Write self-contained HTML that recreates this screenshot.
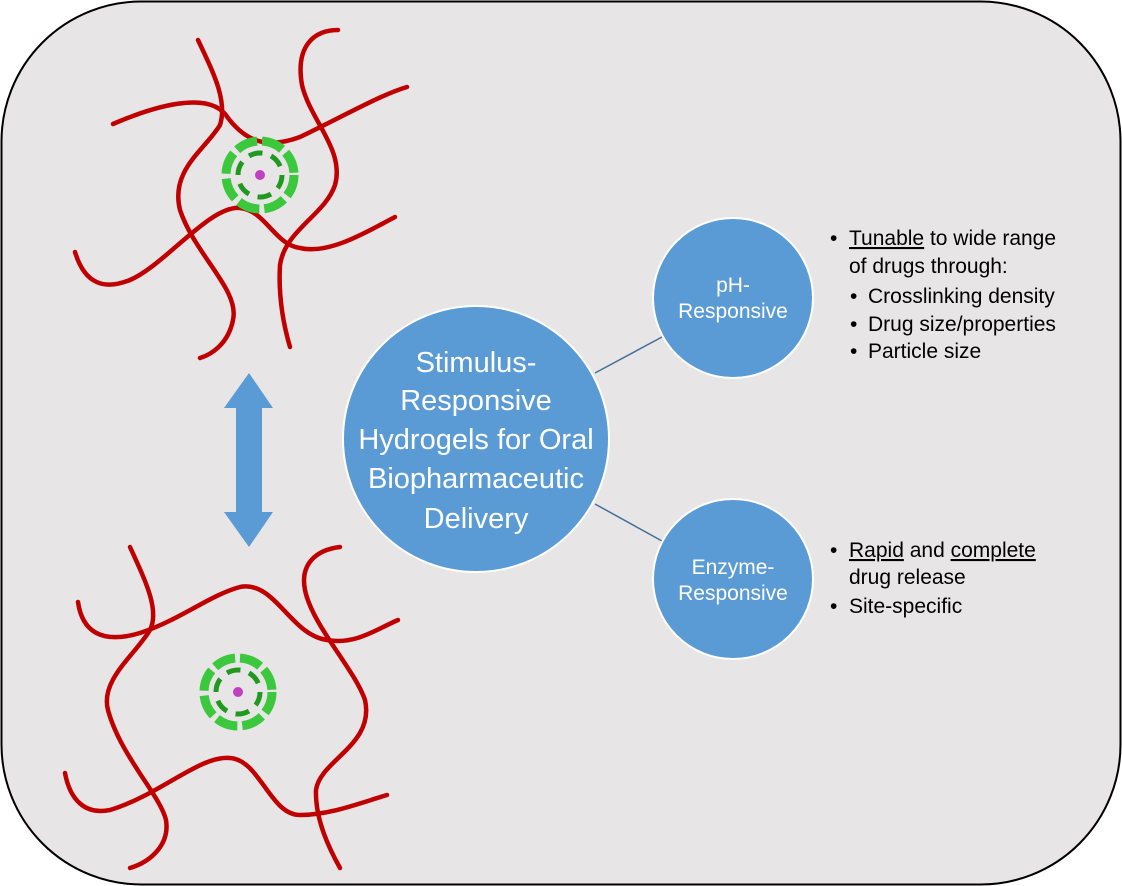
<!DOCTYPE html>
<html><head><meta charset="utf-8"><style>
html,body{margin:0;padding:0;background:#fff;width:1122px;height:886px;overflow:hidden}
svg{display:block}
text{font-family:"Liberation Sans",sans-serif}
</style></head><body>
<svg width="1122" height="886" viewBox="0 0 1122 886" xmlns="http://www.w3.org/2000/svg">
<rect x="1.5" y="1.5" width="1119" height="883" rx="140" ry="140" fill="#e7e5e6" stroke="#000" stroke-width="2"/>
<g fill="none" stroke="#c00000" stroke-width="4.5" stroke-linecap="round">
<path d="M113,124 C150,108 210,88 228,118 C245,140 265,150 300,137 C340,118 380,95 407,87"/>
<path d="M198,40 C212,70 228,100 220,125 C205,150 170,170 180,210 C195,255 240,290 233,320 C228,345 210,355 200,358"/>
<path d="M338,30 C315,30 295,45 302,85 C310,120 345,150 335,185 C325,215 285,230 280,265 C278,300 285,330 290,347"/>
<path d="M75,252 C85,285 105,290 130,280 C165,265 210,205 240,208 C265,210 275,245 300,248 C330,255 370,230 395,217"/>
<path d="M78,602 C82,630 100,645 140,633 C180,620 210,595 240,587 C275,580 290,635 327,640 C355,645 375,630 398,620"/>
<path d="M130,547 C145,580 160,610 150,630 C135,655 100,680 108,710 C120,755 160,795 166,820 C170,845 150,862 130,868"/>
<path d="M340,547 C315,550 300,565 305,590 C312,625 355,670 365,700 C375,745 320,760 316,790 C315,820 330,850 340,868"/>
<path d="M65,773 C70,800 85,815 110,810 C160,795 200,755 230,758 C260,760 270,815 300,815 C330,815 360,803 387,795"/>
</g>
<g>
<circle cx="260" cy="175" r="34" fill="none" stroke="#3cc83c" stroke-width="9" stroke-dasharray="22 5"/>
<circle cx="260" cy="175" r="22" fill="none" stroke="#1f9a1f" stroke-width="5" stroke-dasharray="14 9"/>
<circle cx="260" cy="175" r="5" fill="#c040c0"/>
<circle cx="238" cy="692" r="34" fill="none" stroke="#3cc83c" stroke-width="9" stroke-dasharray="22 5"/>
<circle cx="238" cy="692" r="22" fill="none" stroke="#1f9a1f" stroke-width="5" stroke-dasharray="14 9"/>
<circle cx="238" cy="692" r="5" fill="#c040c0"/>
</g>
<polygon points="249,373 273,408 262,408 262,512 273,512 249,547 224,512 236,512 236,408 224,408" fill="#5b9bd5"/>
<line x1="595" y1="373" x2="662" y2="337" stroke="#41719c" stroke-width="1.5"/>
<line x1="595" y1="504" x2="662" y2="541" stroke="#41719c" stroke-width="1.5"/>
<circle cx="476" cy="439" r="133" fill="#5b9bd5" stroke="#fff" stroke-width="2"/>
<circle cx="733" cy="298" r="80" fill="#5b9bd5" stroke="#fff" stroke-width="2"/>
<circle cx="733" cy="579" r="80" fill="#5b9bd5" stroke="#fff" stroke-width="2"/>
<g fill="#fff" text-anchor="middle" font-size="29">
<text x="476" y="372">Stimulus-</text>
<text x="476" y="410">Responsive</text>
<text x="476" y="449">Hydrogels for Oral</text>
<text x="476" y="488">Biopharmaceutic</text>
<text x="476" y="528">Delivery</text>
</g>
<g fill="#fff" text-anchor="middle" font-size="21">
<text x="733" y="292">pH-</text>
<text x="733" y="318">Responsive</text>
<text x="733" y="574">Enzyme-</text>
<text x="733" y="600">Responsive</text>
</g>
<g fill="#000" font-size="21">
<text x="830" y="245">•</text>
<text x="849" y="245"><tspan text-decoration="underline">Tunable</tspan> to wide range</text>
<text x="849" y="273">of drugs through:</text>
<text x="850" y="303">•</text><text x="868" y="303">Crosslinking density</text>
<text x="850" y="331">•</text><text x="868" y="331">Drug size/properties</text>
<text x="850" y="358">•</text><text x="868" y="358">Particle size</text>
<text x="830" y="557">•</text>
<text x="849" y="557"><tspan text-decoration="underline">Rapid</tspan> and <tspan text-decoration="underline">complete</tspan></text>
<text x="849" y="584">drug release</text>
<text x="830" y="613">•</text><text x="849" y="613">Site-specific</text>
</g>
</svg>
</body></html>
